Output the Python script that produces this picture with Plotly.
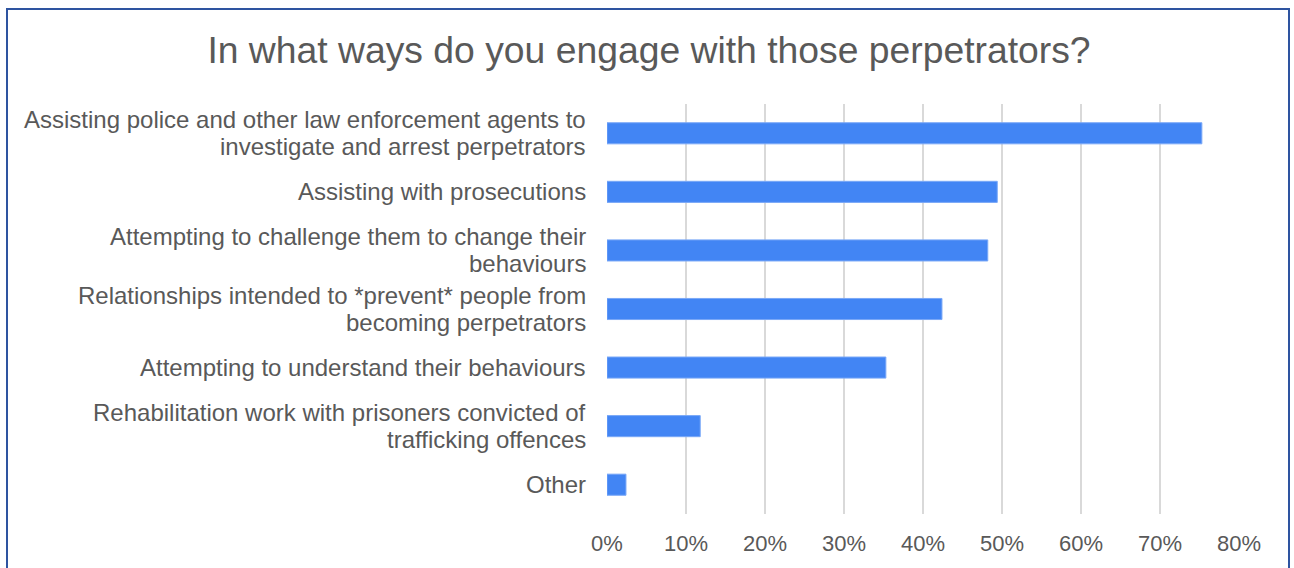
import plotly.graph_objects as go

# Survey responses (share of respondents), top to bottom
categories = [
    "Assisting police and other law enforcement agents to<br>investigate and arrest perpetrators",
    "Assisting with prosecutions",
    "Attempting to challenge them to change their<br>behaviours",
    "Relationships intended to *prevent* people from<br>becoming perpetrators",
    "Attempting to understand their behaviours",
    "Rehabilitation work with prisoners convicted of<br>trafficking offences",
    "Other",
]
shares = [0.753, 0.494, 0.482, 0.424, 0.353, 0.118, 0.024]
x_ticks = [0, 0.1, 0.2, 0.3, 0.4, 0.5, 0.6, 0.7, 0.8]
x_tick_labels = ["0%", "10%", "20%", "30%", "40%", "50%", "60%", "70%", "80%"]

W, H = 1294, 568
L, R, T, B = 607, 55, 104, 54
pw, ph = W - L - R, H - T - B

def px_x(x):
    return (x - L) / pw

def px_y(y):
    return 1 - (y - T) / ph

grey = "#595959"
font_family = "Liberation Sans, Arial, sans-serif"
label_size = 24
line_gap = 27  # distance between wrapped label lines

fig = go.Figure(
    go.Bar(
        x=shares,
        y=categories,
        orientation="h",
        marker=dict(color="#4285F4", line=dict(color="#7AA8F7", width=1)),
        hoverinfo="skip",
    )
)

# Category labels, one annotation per text line for tight line spacing
annotations = []
for cat in categories:
    lines = cat.split("<br>")
    n = len(lines)
    for i, line in enumerate(lines):
        offset = ((n - 1) / 2 - i) * line_gap
        annotations.append(
            dict(
                text=line,
                xref="paper",
                yref="y",
                x=px_x(588),
                y=cat,
                xanchor="right",
                yanchor="middle",
                yshift=offset,
                showarrow=False,
                font=dict(family=font_family, size=label_size, color=grey),
            )
        )

fig.update_layout(
    width=W,
    height=H,
    margin=dict(l=L, r=R, t=T, b=B),
    paper_bgcolor="white",
    plot_bgcolor="white",
    bargap=0.64,
    showlegend=False,
    title=dict(
        text="In what ways do you engage with those perpetrators?",
        x=649 / W,
        xref="container",
        xanchor="center",
        y=1 - 50 / H,
        yref="container",
        yanchor="middle",
        font=dict(family=font_family, size=37.3, color=grey),
    ),
    font=dict(family=font_family, size=22, color=grey),
    xaxis=dict(
        range=[0, 0.8],
        tickvals=x_ticks,
        ticktext=x_tick_labels,
        showgrid=True,
        gridcolor="#D9D9D9",
        gridwidth=1.5,
        zeroline=False,
        showline=False,
        ticks="",
        ticklabelstandoff=14,
        tickfont=dict(size=22, color=grey),
        fixedrange=True,
    ),
    yaxis=dict(
        range=[6.5, -0.5],
        categoryorder="array",
        categoryarray=categories,
        showgrid=False,
        zeroline=False,
        showline=False,
        showticklabels=False,
        ticks="",
        fixedrange=True,
    ),
    annotations=annotations,
    shapes=[
        dict(
            type="rect",
            xref="paper",
            yref="paper",
            x0=px_x(7),
            x1=px_x(1289),
            y0=px_y(580),
            y1=px_y(9),
            line=dict(color="#2E54A0", width=2),
            fillcolor="rgba(0,0,0,0)",
            layer="above",
        )
    ],
)

fig.write_html("out.html", config={"displayModeBar": False})
